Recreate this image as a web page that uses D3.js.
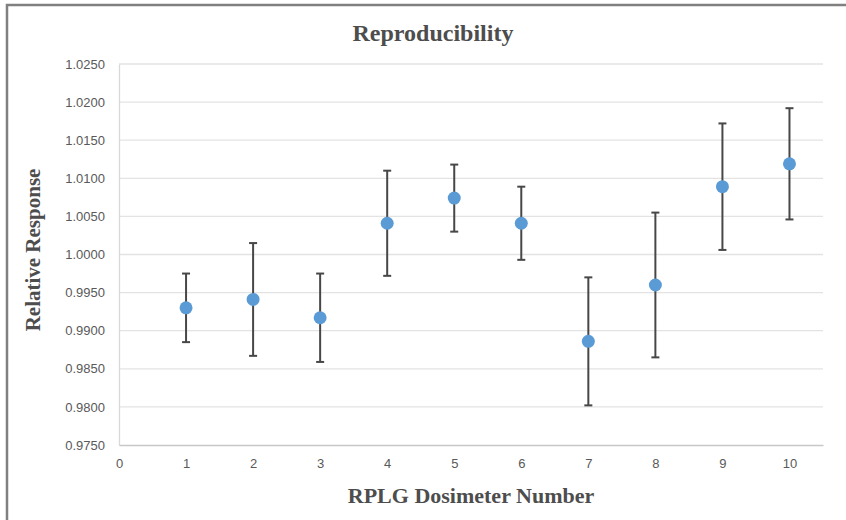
<!DOCTYPE html>
<html>
<head>
<meta charset="utf-8">
<script src="https://cdn.jsdelivr.net/npm/d3@7"></script>
<style>
  body { margin: 0; background: #fff; }
  .tick text { font-family: "Liberation Sans", Arial, sans-serif; font-size: 13px; fill: #595959; }
  .ttl { font-family: "Liberation Serif", "Times New Roman", serif; font-weight: bold; fill: #4d4d4d; }
</style>
</head>
<body>
<div class="chart"></div>
<script>
// data
var dosimeters = [1, 2, 3, 4, 5, 6, 7, 8, 9, 10];
var response = [0.9930, 0.9941, 0.9917, 1.0041, 1.0074, 1.0041, 0.9886, 0.9960, 1.0089, 1.0119];
var errors   = [0.0045, 0.0074, 0.0058, 0.0069, 0.0044, 0.0048, 0.0084, 0.0095, 0.0083, 0.0073];
var yTicks = [0.975, 0.980, 0.985, 0.990, 0.995, 1.000, 1.005, 1.010, 1.015, 1.020, 1.025];
var xTicks = [0, 1, 2, 3, 4, 5, 6, 7, 8, 9, 10];

var W = 846, H = 520;
var margin = {top: 64, right: 23, bottom: 75, left: 119},
    width = W - margin.left - margin.right,
    height = H - margin.top - margin.bottom;

var x = d3.scaleLinear().domain([0, 10.5]).range([0, width]);
var y = d3.scaleLinear().domain([0.975, 1.025]).range([height, 0]);

var svg = d3.select(".chart").append("svg")
    .attr("width", W)
    .attr("height", H);

// outer frame (only top and left visible)
svg.append("rect")
    .attr("x", 7).attr("y", 5)
    .attr("width", W + 20).attr("height", H + 20)
    .attr("fill", "none")
    .attr("stroke", "#808080")
    .attr("stroke-width", 2.5);

var g = svg.append("g")
    .attr("transform", "translate(" + margin.left + "," + margin.top + ")");

// gridlines
g.selectAll(".grid")
    .data(yTicks.slice(1))
    .enter().append("line")
    .attr("x1", 0).attr("x2", width)
    .attr("y1", function(d) { return y(d); })
    .attr("y2", function(d) { return y(d); })
    .attr("stroke", "#e3e3e3")
    .attr("stroke-width", 1.3);

// y axis
var yAxis = g.append("g")
    .call(d3.axisLeft(y).tickValues(yTicks).tickFormat(d3.format(".4f")).tickSize(0).tickPadding(14));
yAxis.select(".domain").attr("stroke", "#d9d9d9").attr("stroke-width", 1.3);

// x axis
var xAxis = g.append("g")
    .attr("transform", "translate(0," + height + ")")
    .call(d3.axisBottom(x).tickValues(xTicks).tickFormat(d3.format("d")).tickSize(0).tickPadding(14));
xAxis.select(".domain").attr("stroke", "#c8c8c8").attr("stroke-width", 1.3);

// error bars
var eb = g.selectAll(".err")
    .data(dosimeters)
    .enter().append("g");
eb.append("line")
    .attr("x1", function(d) { return x(d); })
    .attr("x2", function(d) { return x(d); })
    .attr("y1", function(d, i) { return y(response[i] + errors[i]); })
    .attr("y2", function(d, i) { return y(response[i] - errors[i]); })
    .attr("stroke", "#474747").attr("stroke-width", 2);
eb.append("line")
    .attr("x1", function(d) { return x(d) - 4; })
    .attr("x2", function(d) { return x(d) + 4; })
    .attr("y1", function(d, i) { return y(response[i] + errors[i]); })
    .attr("y2", function(d, i) { return y(response[i] + errors[i]); })
    .attr("stroke", "#474747").attr("stroke-width", 2);
eb.append("line")
    .attr("x1", function(d) { return x(d) - 4; })
    .attr("x2", function(d) { return x(d) + 4; })
    .attr("y1", function(d, i) { return y(response[i] - errors[i]); })
    .attr("y2", function(d, i) { return y(response[i] - errors[i]); })
    .attr("stroke", "#474747").attr("stroke-width", 2);

// points
g.selectAll(".dot")
    .data(dosimeters)
    .enter().append("circle")
    .attr("cx", function(d) { return x(d); })
    .attr("cy", function(d, i) { return y(response[i]); })
    .attr("r", 6.5)
    .attr("fill", "#5b9bd5");

// titles
svg.append("text").attr("class", "ttl")
    .attr("x", 433).attr("y", 41)
    .attr("text-anchor", "middle")
    .style("font-size", "24px")
    .text("Reproducibility");

svg.append("text").attr("class", "ttl")
    .attr("x", 471).attr("y", 503)
    .attr("text-anchor", "middle")
    .style("font-size", "22px")
    .text("RPLG Dosimeter Number");

svg.append("text").attr("class", "ttl")
    .attr("transform", "translate(40,250) rotate(-90)")
    .attr("text-anchor", "middle")
    .style("font-size", "21px")
    .text("Relative Response");
</script>
</body>
</html>
